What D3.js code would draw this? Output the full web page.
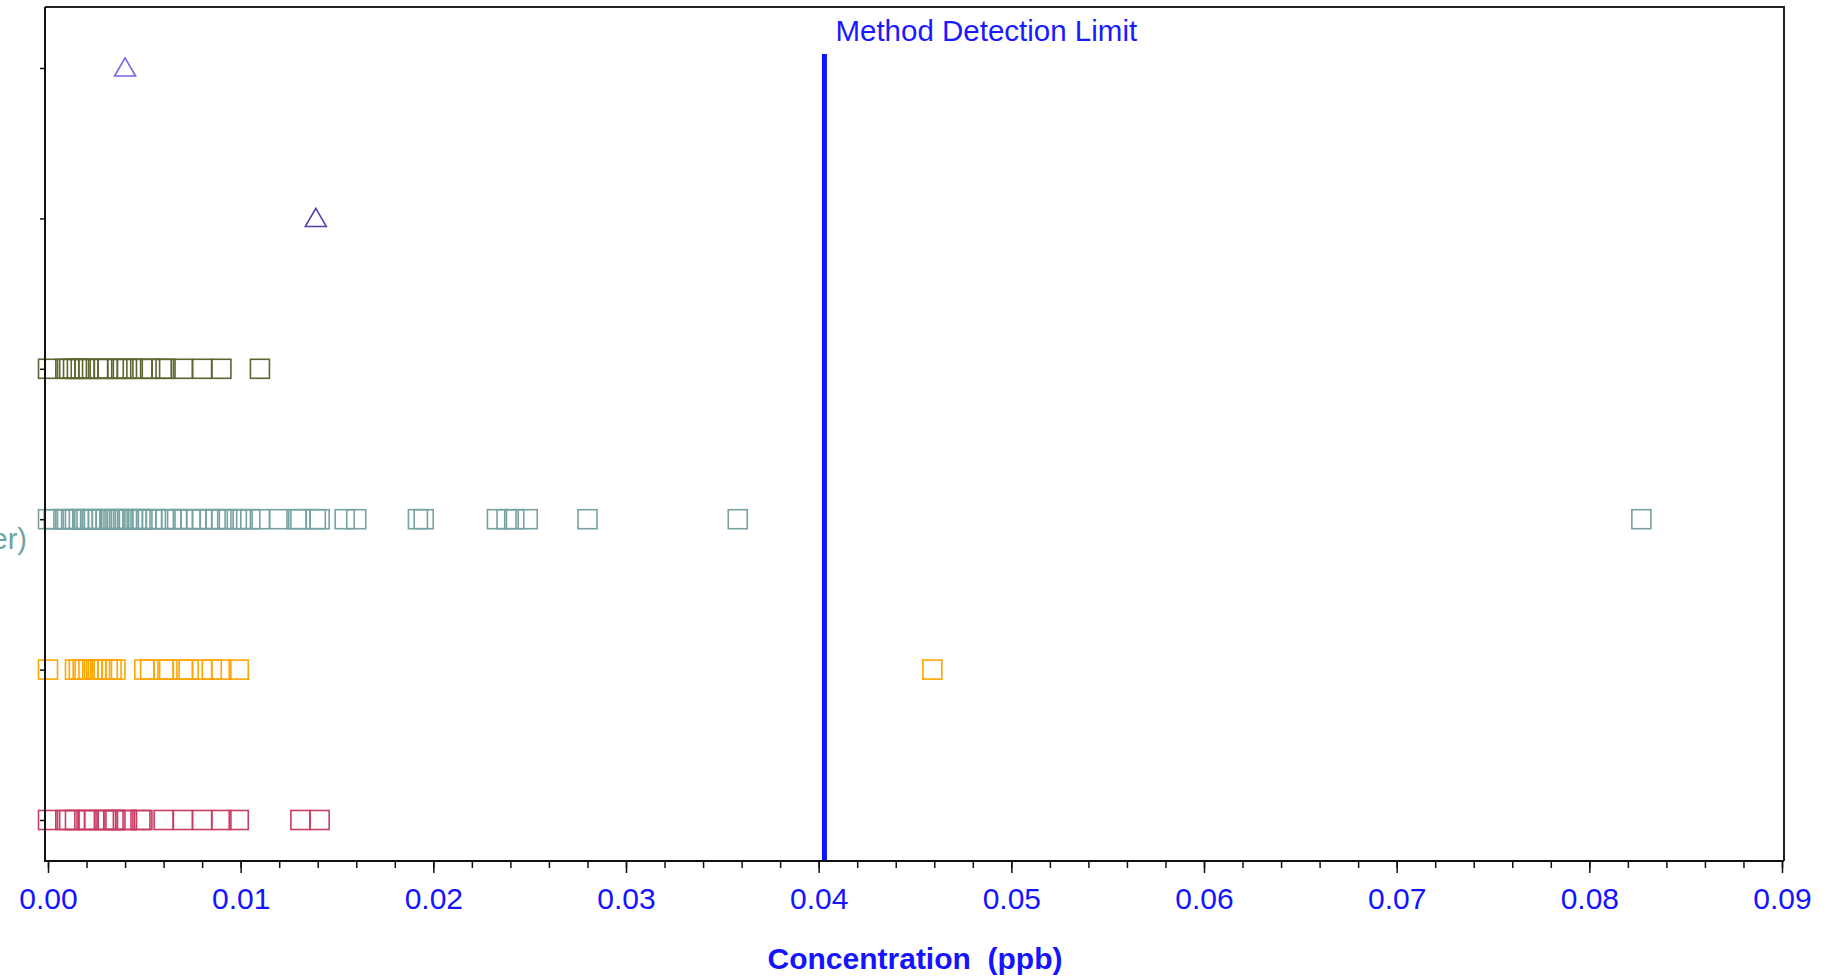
<!DOCTYPE html>
<html>
<head>
<meta charset="utf-8">
<script src="https://cdn.jsdelivr.net/npm/d3@7"></script>
<style>
  html, body { margin: 0; padding: 0; background: #ffffff; }
  svg { display: block; }
</style>
</head>
<body>
<svg id="chart" width="1837" height="980"></svg>
<script>
// ---------- data ----------
const categories = ["Series 1", "Series 2", "Series 3", "Series 4", "Series 5", "Series 6"];
const markerShapes = ["triangle", "triangle", "square", "square", "square", "square"];
const markerColors = ["#7566e6", "#4d40a8", "#5c6630", "#76a2a2", "#ffa500", "#c93d62"];

const series1 = [0.0040];
const series2 = [0.0139];
const series3 = [0.0000, 0.0009, 0.0011, 0.0013, 0.0015, 0.0017, 0.0019, 0.0021, 0.0026, 0.0029,
                 0.0031, 0.0036, 0.0038, 0.0041, 0.0044, 0.0049, 0.0053, 0.0059, 0.0061, 0.0070,
                 0.0080, 0.0090, 0.0110];
const series4 = [0.0000, 0.0003, 0.0008, 0.0009, 0.0012, 0.0014, 0.0016, 0.0018, 0.0020, 0.0022,
                 0.0023, 0.0026, 0.0028, 0.0030, 0.0032, 0.0034, 0.0035, 0.0037, 0.0039, 0.0041,
                 0.0042, 0.0044, 0.0046, 0.0048, 0.0049, 0.0051, 0.0054, 0.0056, 0.0061, 0.0064,
                 0.0067, 0.0070, 0.0074, 0.0077, 0.0080, 0.0084, 0.0087, 0.0090, 0.0093, 0.0098,
                 0.0101, 0.0105, 0.0110, 0.0120, 0.0129, 0.0131, 0.0139, 0.0141, 0.0154, 0.0160,
                 0.0192, 0.0195, 0.0233, 0.0238, 0.0242, 0.0249, 0.0280, 0.0358, 0.0827];
const series5 = [0.0000, 0.0014, 0.0016, 0.0018, 0.0019, 0.0021, 0.0023, 0.0025, 0.0027, 0.0028,
                 0.0031, 0.0033, 0.0035, 0.0050, 0.0053, 0.0060, 0.0062, 0.0070, 0.0073, 0.0080,
                 0.0085, 0.0090, 0.0099, 0.0459];
const series6 = [0.0000, 0.0009, 0.0011, 0.0014, 0.0020, 0.0021, 0.0024, 0.0029, 0.0031, 0.0034,
                 0.0035, 0.0040, 0.0041, 0.0048, 0.0049, 0.0060, 0.0070, 0.0080, 0.0090, 0.0099,
                 0.0131, 0.0141];
const seriesValues = [series1, series2, series3, series4, series5, series6];

const xTickValues = [0, 0.01, 0.02, 0.03, 0.04, 0.05, 0.06, 0.07, 0.08, 0.09];
const xDomain = [0, 0.09];
const mdlValue = 0.0403;
const mdlLabel = "Method Detection Limit";
const xTitle = "Concentration  (ppb)";
const partialYLabel = "(Surface Water)";

// ---------- layout ----------
const svg = d3.select("#chart");
const frame = { left: 45, right: 1784, top: 7, bottom: 861 };
const x = d3.scaleLinear().domain(xDomain).range([48, 1782]);
const y = d3.scalePoint().domain(categories).range([68, 820]);
const font = "'Liberation Sans', Arial, sans-serif";

// frame (top + right)
svg.append("path")
  .attr("d", `M${frame.left},${frame.top}H${frame.right}V${frame.bottom}`)
  .attr("fill", "none").attr("stroke", "#222").attr("stroke-width", 2);

// markers
const sq = 19;
const triangle = d3.symbol().type(d3.symbolTriangle).size(190);
categories.forEach((cat, i) => {
  const g = svg.append("g");
  const vals = seriesValues[i];
  if (markerShapes[i] === "square") {
    g.selectAll("rect").data(vals).enter().append("rect")
      .attr("x", d => x(d) - sq / 2)
      .attr("y", y(cat) - sq / 2)
      .attr("width", sq).attr("height", sq)
      .attr("fill", "none")
      .attr("stroke", markerColors[i])
      .attr("stroke-width", 1.6);
  } else {
    g.selectAll("path").data(vals).enter().append("path")
      .attr("d", triangle)
      .attr("transform", d => `translate(${x(d)},${y(cat) + 2})`)
      .attr("fill", "none")
      .attr("stroke", markerColors[i])
      .attr("stroke-width", 1.6);
  }
});

// method detection limit line
svg.append("line")
  .attr("x1", x(mdlValue)).attr("x2", x(mdlValue))
  .attr("y1", 54).attr("y2", frame.bottom)
  .attr("stroke", "#0a14ff").attr("stroke-width", 5);
svg.append("text")
  .attr("x", x(mdlValue) + 11).attr("y", 41)
  .attr("font-family", font).attr("font-size", 29.5)
  .attr("fill", "#1a1aff")
  .text(mdlLabel);

// x axis
const xMinor = d3.range(0, 0.0901, 0.002).map(v => +v.toFixed(3));
const xAxisG = svg.append("g").attr("transform", `translate(0,${frame.bottom})`);
xAxisG.append("line").attr("x1", frame.left).attr("x2", frame.right)
  .attr("stroke", "#111").attr("stroke-width", 2);
xAxisG.call(d3.axisBottom(x).tickValues(xMinor).tickSize(7).tickFormat(""))
  .call(g => g.select(".domain").remove())
  .call(g => g.selectAll(".tick line").attr("stroke", "#111").attr("stroke-width", 1.5));
svg.append("g").attr("transform", `translate(0,${frame.bottom})`)
  .call(d3.axisBottom(x).tickValues(xTickValues).tickSize(12).tickPadding(34)
    .tickFormat(d3.format(".2f")))
  .call(g => g.select(".domain").remove())
  .call(g => g.selectAll(".tick line").attr("stroke", "#111").attr("stroke-width", 1.5))
  .call(g => g.selectAll(".tick text")
    .attr("font-family", font).attr("font-size", 30).attr("fill", "#1414ff")
    .attr("dy", "0").attr("y", 48));

// x title
svg.append("text")
  .attr("x", (x(0) + x(0.09)) / 2).attr("y", 969)
  .attr("text-anchor", "middle")
  .attr("font-family", font).attr("font-size", 30).attr("font-weight", "bold")
  .attr("fill", "#1414ff")
  .style("white-space", "pre")
  .text(xTitle);

// y axis
const yAxisG = svg.append("g").attr("transform", `translate(${frame.left},0)`);
yAxisG.append("line").attr("y1", frame.top).attr("y2", frame.bottom + 1)
  .attr("stroke", "#111").attr("stroke-width", 2);
yAxisG.call(d3.axisLeft(y).tickSize(5).tickFormat(""))
  .call(g => g.select(".domain").remove())
  .call(g => g.selectAll(".tick line").attr("stroke", "#111").attr("stroke-width", 1.5));

// partially visible category label (cut at the left edge, as in the reference)
svg.append("text")
  .attr("x", 27).attr("y", y(categories[3]) + 30)
  .attr("text-anchor", "end")
  .attr("font-family", font).attr("font-size", 29)
  .attr("fill", "#6fa3a3")
  .text(partialYLabel);
</script>
</body>
</html>
